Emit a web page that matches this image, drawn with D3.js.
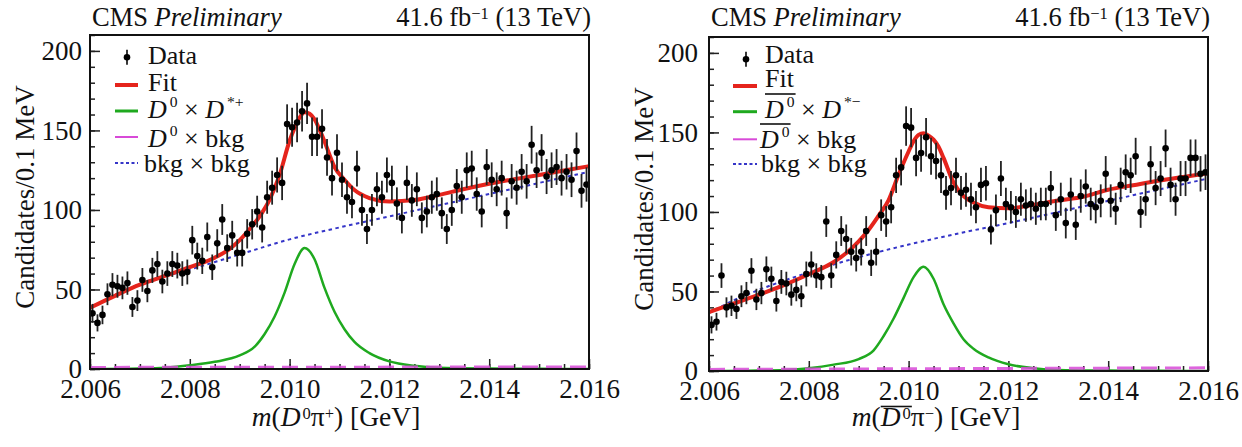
<!DOCTYPE html>
<html>
<head>
<meta charset="utf-8">
<script src="https://cdn.jsdelivr.net/npm/d3@7"></script>
<style>
  body { margin: 0; background: #fff; }
  svg text { white-space: pre; font-family: "Liberation Serif", "DejaVu Serif", serif; }
</style>
</head>
<body>
<div id="chart"></div>
<script>
// histogram: 100 bins of 0.1 MeV from 2.006 GeV
const binLow = 2.006;
const binWidth = 0.0001;

const leftCounts = [35, 29, 34, 47, 53, 52, 51, 54, 39, 43,
  56, 49, 62, 66, 55, 60, 66, 65, 60, 61,
  81, 71, 68, 83, 64, 79, 94, 76, 84, 73,
  73, 85, 91, 99, 89, 108, 114, 122, 117, 154,
  152, 155, 162, 167, 146, 146, 151, 133, 120, 136,
  119, 108, 105, 126, 100, 88, 100, 113, 108, 122,
  117, 104, 95, 117, 106, 113, 95, 99, 108, 110,
  98, 88, 100, 115, 108, 125, 126, 110, 99, 127,
  119, 113, 120, 98, 118, 114, 124, 118, 141, 125,
  136, 121, 125, 127, 120, 124, 119, 137, 112, 116];

const rightCounts = [29, 31, 60, 40, 41, 39, 47, 49, 63, 45,
  49, 64, 58, 44, 56, 55, 48, 51, 47, 61,
  67, 60, 59, 94, 60, 73, 88, 83, 75, 71,
  75, 88, 68, 75, 98, 94, 103, 123, 128, 154,
  153, 134, 137, 147, 135, 132, 123, 112, 115, 123,
  112, 114, 108, 103, 117, 118, 89, 101, 121, 105,
  103, 100, 108, 104, 105, 102, 105, 105, 115, 98,
  108, 93, 111, 92, 110, 116, 105, 103, 107, 124,
  107, 102, 117, 125, 123, 135, 100, 108, 130, 115,
  121, 140, 117, 108, 121, 121, 134, 134, 124, 125];

const fitX = [2.006, 2.0065, 2.007, 2.0075, 2.008, 2.0085, 2.0088, 2.009, 2.0092, 2.0094, 2.0096, 2.0098,
  2.0100, 2.0101, 2.0102, 2.0103, 2.0104, 2.0105, 2.0106, 2.0107, 2.0109, 2.0111, 2.0113, 2.0116,
  2.0120, 2.0125, 2.013, 2.0135, 2.014, 2.0145, 2.015, 2.0155, 2.016];
const fitLeft = [38.5, 46, 53, 58.5, 64, 70, 75.5, 81, 88, 96, 106.5, 122,
  143.5, 151.5, 158, 161.5, 160.5, 157, 150.5, 143, 127, 119, 112.5, 107.5,
  105.3, 106.2, 109.5, 113.2, 116.5, 119.3, 122, 124.8, 127.5];
const fitRight = [37, 42.5, 48, 54, 60.8, 68.5, 75.5, 81.5, 88.8, 97.7, 107.5, 123.5,
  138, 144.5, 148.5, 149.5, 148, 145.5, 141, 134, 118.5, 110, 106, 103,
  102.3, 104.5, 107.2, 109.6, 114, 116.8, 119.6, 122, 124.3];

const sigX = [2.006, 2.007, 2.0075, 2.008, 2.0085, 2.009, 2.0093, 2.0095, 2.0097, 2.0099, 2.0101, 2.0103,
  2.0105, 2.0107, 2.0109, 2.0111, 2.0113, 2.0116, 2.012, 2.0125, 2.013, 2.014, 2.015, 2.016];
const sigLeft = [0, 0.3, 0.8, 2.3, 4.5, 8.5, 14, 22, 33, 48, 66, 76,
  69, 51, 36, 25, 17, 10, 4.8, 2, 0.8, 0.3, 0.1, 0];
const sigRight = [0, 0.3, 0.7, 1.8, 4, 7.5, 13, 22, 33, 46, 59, 65.5,
  58, 42, 30, 20, 14, 8.5, 4.2, 1.8, 0.7, 0.3, 0.1, 0];

const bkgX = [2.006, 2.0065, 2.007, 2.008, 2.009, 2.010, 2.011, 2.012, 2.013, 2.014, 2.015, 2.016];
const bkgLeft = [38, 46.5, 53.5, 62.5, 72, 81.5, 89, 96, 103, 110, 117, 124];
const bkgRight = [36.5, 44.5, 51, 62, 71.5, 79.5, 86.5, 93, 100, 107, 114, 121];

const magX = [2.006, 2.016];
const magLeft = [1.0, 1.3];
const magRight = [1.0, 2.0];

const xMajor = [2.006, 2.008, 2.010, 2.012, 2.014, 2.016];
const xMinor = [2.006, 2.0065, 2.007, 2.0075, 2.008, 2.0085, 2.009, 2.0095, 2.010, 2.0105, 2.011,
  2.0115, 2.012, 2.0125, 2.013, 2.0135, 2.014, 2.0145, 2.015, 2.0155, 2.016];
const yMajor = [0, 50, 100, 150, 200];
const yMinor = [0, 10, 20, 30, 40, 50, 60, 70, 80, 90, 100, 110, 120, 130, 140, 150, 160, 170, 180, 190, 200, 210];

const width = 1242, height = 447;
const RED = "#e5241c", GREEN = "#1fa91f", MAG = "#d84ad8", BLUE = "#3535c8";

const svg = d3.select("#chart").append("svg")
  .attr("width", width)
  .attr("height", height);

// text with italic / superscript / overline pieces
function rich(sel, x, y, parts, fs, o = {}) {
  const supShift = (o.supShift || 0.42) * fs;
  const supScale = o.supScale || 0.65;
  const t = sel.append("text")
    .attr("x", x).attr("y", y)
    .attr("font-size", fs)
    .attr("fill", "#111")
    .attr("text-anchor", o.anchor || "start");
  let shift = 0, idx = 0;
  const over = [];
  parts.forEach(p => {
    const ts = t.append("tspan").text(p.t);
    const target = p.sup ? -supShift : 0;
    if (target !== shift) { ts.attr("dy", target - shift); shift = target; }
    if (p.sup) ts.attr("font-size", fs * supScale);
    if (p.i) ts.attr("font-style", "italic");
    if (p.dx) ts.attr("dx", p.dx);
    if (p.ov) over.push(idx, idx + p.t.length - 1);
    idx += p.t.length;
  });
  if (over.length) {
    const node = t.node();
    const a = node.getExtentOfChar(over[0]);
    const b = node.getExtentOfChar(over[over.length - 1]);
    const oy = y - (o.ovRise || 0.9 * fs);
    sel.append("line")
      .attr("x1", a.x).attr("x2", b.x + b.width + 1)
      .attr("y1", oy).attr("y2", oy)
      .attr("stroke", "#111").attr("stroke-width", 1.6);
  }
  return t;
}

const panels = [
  {
    ox: 0, oy: 0, counts: leftCounts, fit: fitLeft, sig: sigLeft, bkg: bkgLeft, mag: magLeft,
    xlabelX: 336,
    xlabel: [{t: "m", i: true}, {t: "("}, {t: "D", i: true}, {t: "0", sup: true, dx: 2}, {t: "π"}, {t: "+", sup: true}, {t: ") [GeV]"}],
    marker: [127, 57.3], textX: 148, bkgTextX: 144,
    textY: [64.3, 90.7, 118.3, 146.7, 172],
    lineX: [115, 138], lineY: [85, 111, 137, 163],
    sigLabel: [{t: "D", i: true}, {t: "0", sup: true, dx: 3}, {t: " × "}, {t: "D", i: true}, {t: "*+", sup: true, dx: 3}],
    magLabel: [{t: "D", i: true}, {t: "0", sup: true, dx: 3}, {t: " × bkg"}]
  },
  {
    ox: 619, oy: 2, counts: rightCounts, fit: fitRight, sig: sigRight, bkg: bkgRight, mag: magRight,
    xlabelX: 936,
    xlabel: [{t: "m", i: true}, {t: "("}, {t: "D", i: true, ov: true}, {t: "0", sup: true, dx: 2, ov: true}, {t: "π"}, {t: "−", sup: true}, {t: ") [GeV]"}],
    marker: [746, 59.3], textX: 765, bkgTextX: 761,
    textY: [63.3, 87, 118, 148, 172],
    lineX: [733, 757], lineY: [86, 111.7, 139.3, 164],
    sigLabel: [{t: "D", i: true, ov: true}, {t: "0", sup: true, dx: 3, ov: true}, {t: " × "}, {t: "D", i: true}, {t: "*−", sup: true, dx: 3}],
    magLabel: [{t: "D", i: true, ov: true}, {t: "0", sup: true, dx: 3, ov: true}, {t: " × bkg"}]
  }
];

panels.forEach((p, k) => {
  const fx0 = 90 + p.ox, fx1 = 589 + p.ox;
  const fy0 = 35 + p.oy, fy1 = 369 + p.oy;

  const x = d3.scaleLinear().domain([2.006, 2.016]).range([fx0, fx1]);
  const y = d3.scaleLinear().domain([0, 210]).range([fy1, fy0]);

  const g = svg.append("g");

  g.append("clipPath").attr("id", "clip" + k)
    .append("rect").attr("x", fx0).attr("y", fy0).attr("width", fx1 - fx0).attr("height", fy1 - fy0);

  // axes, ticks pointing inward
  const ax = (sel) => {
    sel.select(".domain").remove();
    sel.attr("font-family", null);
    sel.selectAll("line").attr("stroke", "#222").attr("stroke-width", 1.5);
    sel.selectAll("text").attr("font-size", 27).attr("fill", "#111");
  };
  g.append("g").attr("transform", `translate(0,${fy1})`)
    .call(d3.axisBottom(x).tickValues(xMinor).tickSize(-5).tickFormat(""))
    .call(ax);
  g.append("g").attr("transform", `translate(0,${fy1})`)
    .call(d3.axisBottom(x).tickValues(xMajor).tickSize(-10).tickPadding(10).tickFormat(d3.format(".3f")))
    .call(ax);
  g.append("g").attr("transform", `translate(${fx0},0)`)
    .call(d3.axisLeft(y).tickValues(yMinor).tickSize(-5).tickFormat(""))
    .call(ax);
  g.append("g").attr("transform", `translate(${fx0},0)`)
    .call(d3.axisLeft(y).tickValues(yMajor).tickSize(-10).tickPadding(k ? 11 : 8))
    .call(ax);

  const plot = g.append("g").attr("clip-path", `url(#clip${k})`);
  const line = d3.line().x(d => x(d[0])).y(d => y(d[1])).curve(d3.curveMonotoneX);

  plot.append("path")
    .attr("d", line(sigX.map((v, i) => [v, p.sig[i]])))
    .attr("fill", "none").attr("stroke", GREEN).attr("stroke-width", 2.5);
  plot.append("path")
    .attr("d", line(magX.map((v, i) => [v, p.mag[i]])))
    .attr("fill", "none").attr("stroke", MAG).attr("stroke-width", 3)
    .attr("stroke-dasharray", "16,8").attr("opacity", 0.85);
  plot.append("path")
    .attr("d", line(bkgX.map((v, i) => [v, p.bkg[i]])))
    .attr("fill", "none").attr("stroke", BLUE).attr("stroke-width", 2)
    .attr("stroke-dasharray", "3.5,3.5");
  plot.append("path")
    .attr("d", line(fitX.map((v, i) => [v, p.fit[i]])))
    .attr("fill", "none").attr("stroke", RED).attr("stroke-width", 4);

  // data with sqrt(N) errors
  const pts = plot.append("g").selectAll("g")
    .data(p.counts)
    .join("g")
    .attr("transform", (d, i) => `translate(${x(binLow + (i + 0.5) * binWidth)},0)`);
  pts.append("line")
    .attr("y1", d => y(d - Math.sqrt(d))).attr("y2", d => y(d + Math.sqrt(d)))
    .attr("stroke", "#222").attr("stroke-width", 1.8);
  pts.append("circle")
    .attr("cy", d => y(d)).attr("r", 3.3).attr("fill", "#000");

  g.append("rect")
    .attr("x", fx0).attr("y", fy0).attr("width", fx1 - fx0).attr("height", fy1 - fy0)
    .attr("fill", "none").attr("stroke", "#111").attr("stroke-width", 2);

  // header
  rich(g, fx0 + 2, 26, [{t: "CMS "}, {t: "Preliminary", i: true}], 26.5);
  rich(g, fx1 + 2, 26, [{t: "41.6 fb"}, {t: "−1", sup: true}, {t: " (13 TeV)"}], 26.5,
    {anchor: "end", supShift: 0.25, supScale: 0.62});

  // axis titles
  g.append("text")
    .attr("transform", `translate(${34 + p.ox},${197 + p.oy}) rotate(-90)`)
    .attr("text-anchor", "middle")
    .attr("font-size", 27).attr("fill", "#111")
    .text("Candidates/0.1 MeV");
  rich(g, p.xlabelX, 426, p.xlabel, 27.5, {anchor: "middle", ovRise: 19.5, supShift: 0.26, supScale: 0.6});

  // legend
  const [mx, my] = p.marker;
  g.append("line").attr("x1", mx).attr("x2", mx).attr("y1", my - 7.5).attr("y2", my + 7.5)
    .attr("stroke", "#222").attr("stroke-width", 1.8);
  g.append("circle").attr("cx", mx).attr("cy", my).attr("r", 3.3).attr("fill", "#000");
  const lfs = 26;
  const lo = {ovRise: 24, supShift: 0.42, supScale: 0.6};
  rich(g, p.textX, p.textY[0], [{t: "Data"}], lfs);

  const styles = [
    {c: RED, w: 4, dash: null},
    {c: GREEN, w: 3, dash: null},
    {c: MAG, w: 2, dash: null},
    {c: BLUE, w: 2, dash: "3,2.5"}
  ];
  styles.forEach((s, j) => {
    g.append("line")
      .attr("x1", p.lineX[0]).attr("x2", p.lineX[1])
      .attr("y1", p.lineY[j]).attr("y2", p.lineY[j])
      .attr("stroke", s.c).attr("stroke-width", s.w)
      .attr("stroke-dasharray", s.dash);
  });
  rich(g, p.textX, p.textY[1], [{t: "Fit"}], lfs);
  rich(g, p.textX, p.textY[2], p.sigLabel, lfs, lo);
  rich(g, p.textX - (k ? 5 : 0), p.textY[3], p.magLabel, lfs, lo);
  rich(g, p.bkgTextX, p.textY[4], [{t: "bkg × bkg"}], lfs);
});
</script>
</body>
</html>
